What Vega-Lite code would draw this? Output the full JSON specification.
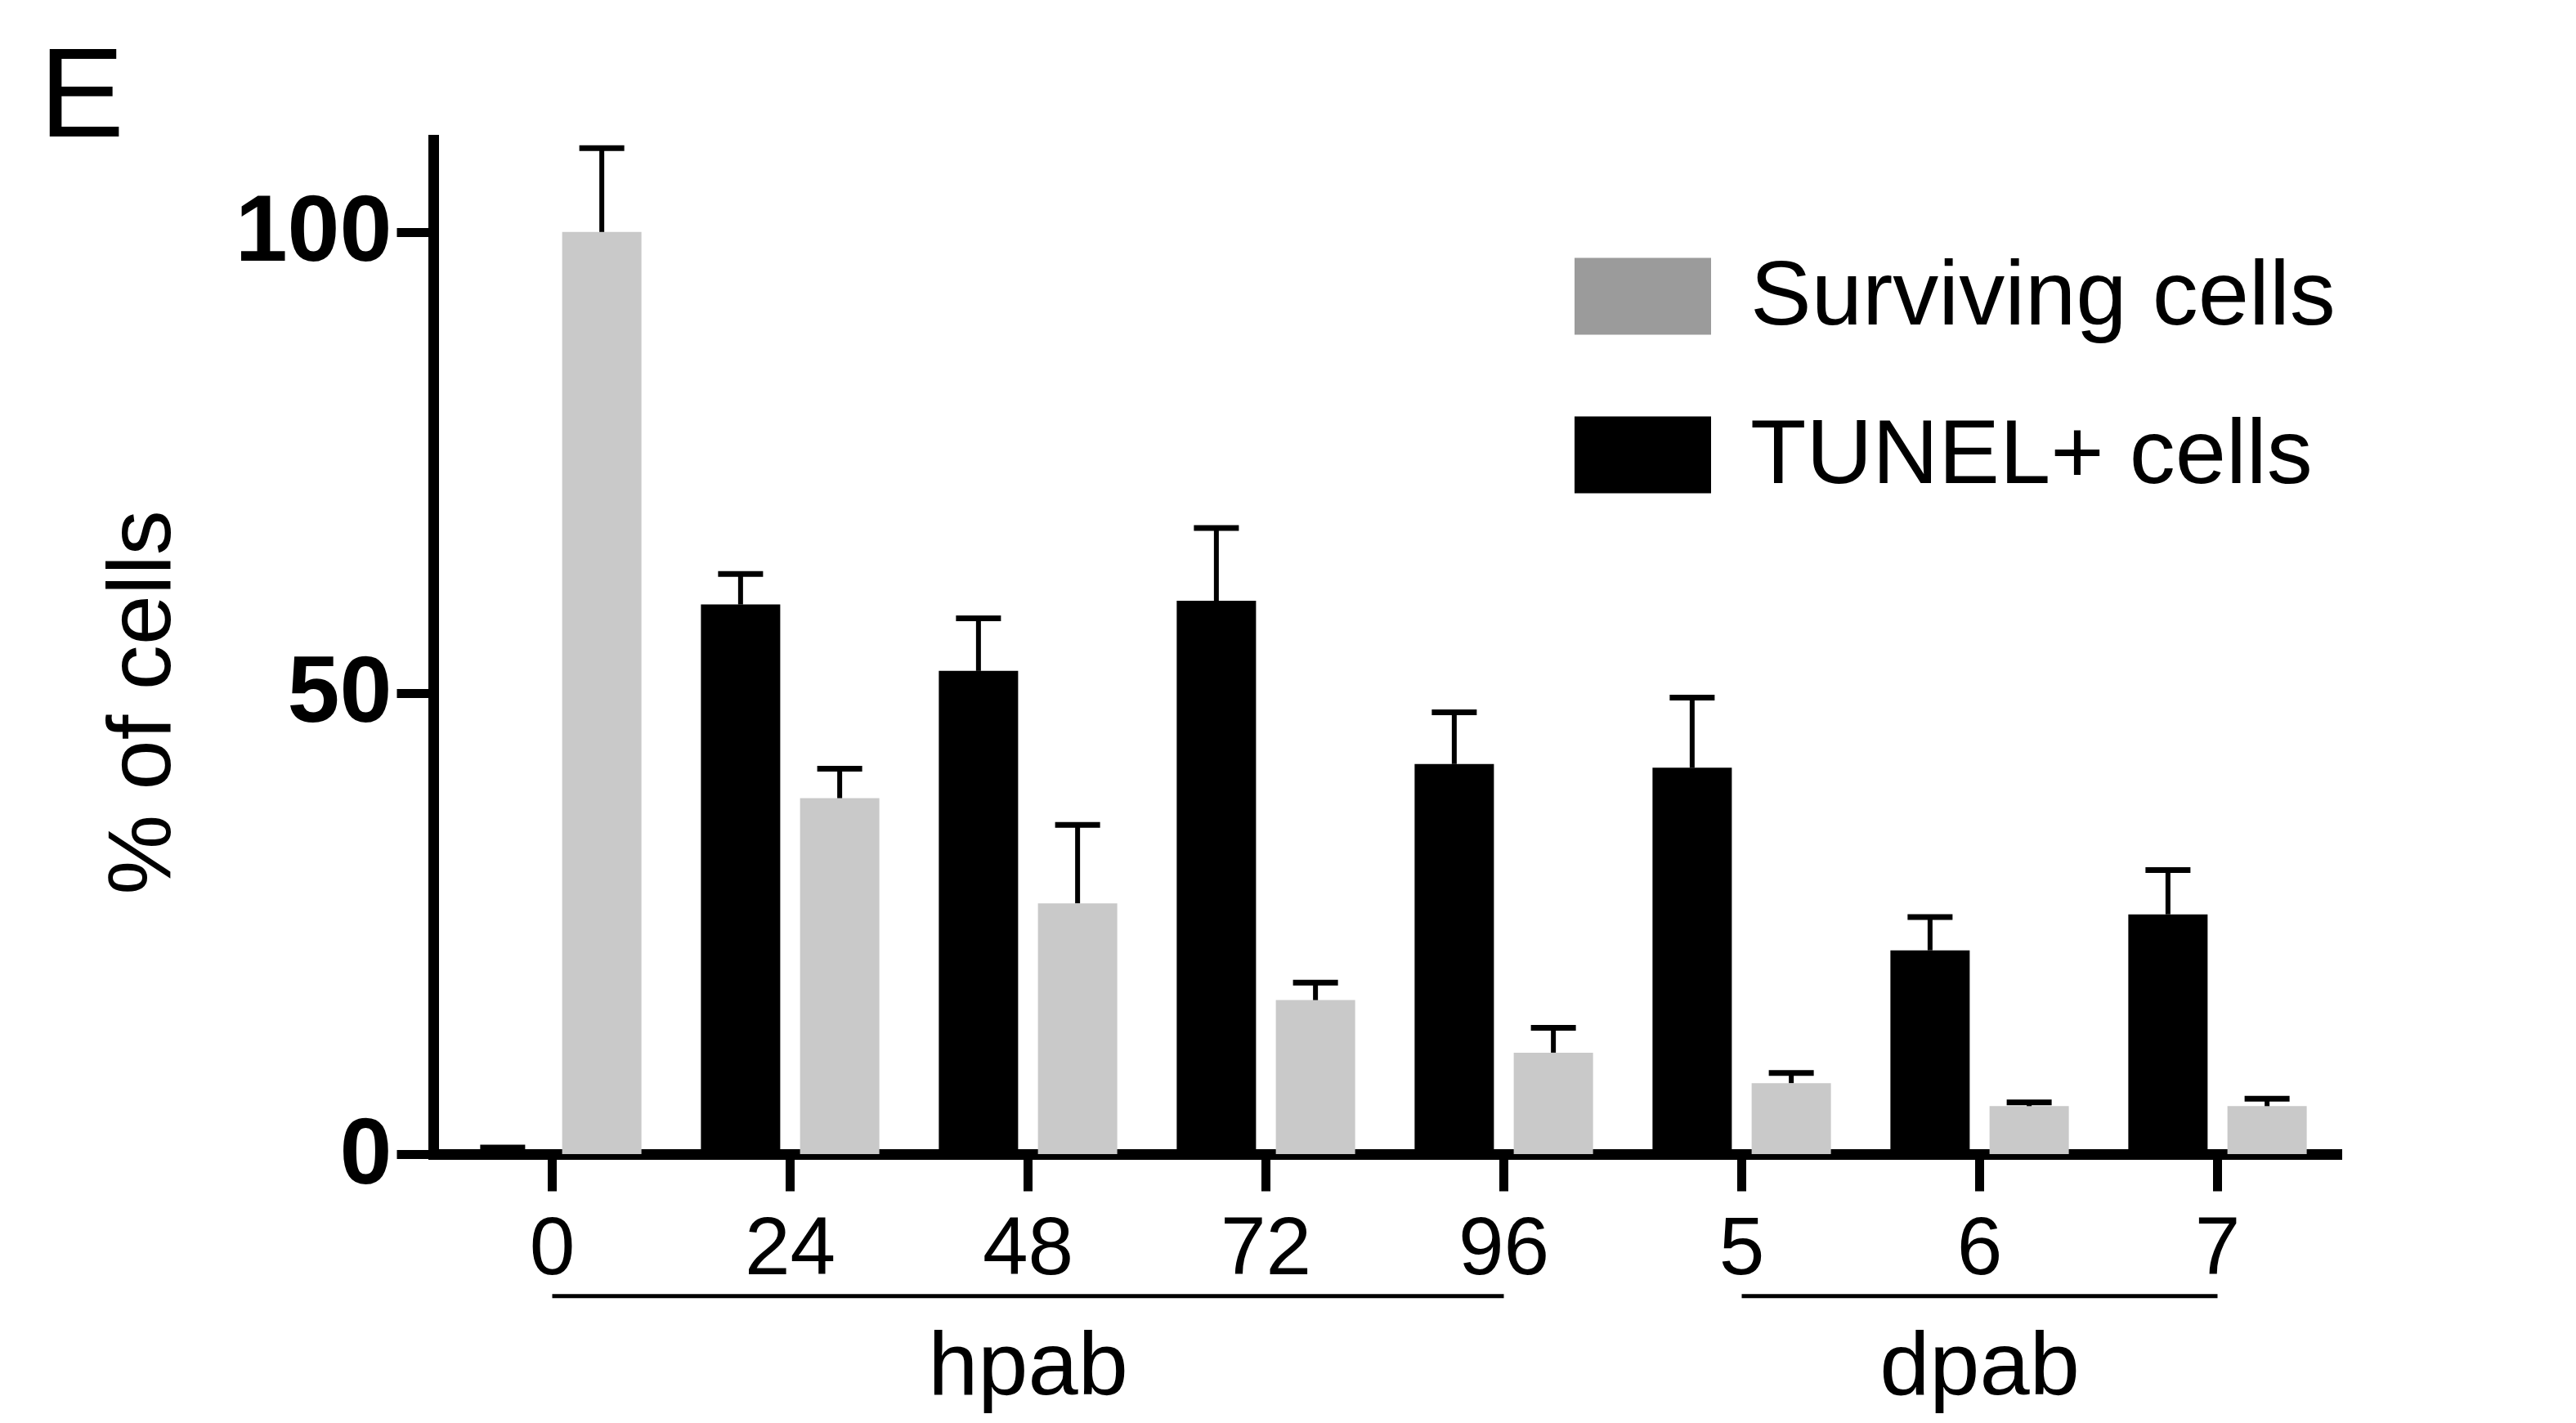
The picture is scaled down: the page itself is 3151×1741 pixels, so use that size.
{
  "$schema": "https://vega.github.io/schema/vega-lite/v6.json",
  "autosize": {"type": "none"},
  "padding": {"left": 530, "top": 171, "right": 293, "bottom": 329},
  "width": 2328,
  "height": 1241,
  "background": "white",
  "title": {"text": "E", "anchor": "start", "frame": "group", "dx": -482, "dy": 156, "offset": 4, "fontSize": 156, "fontWeight": "normal", "font": "Liberation Sans", "color": "black", "baseline": "alphabetic"},
  "config": {"view": {"stroke": null}, "font": "Liberation Sans"},
  "resolve": {"scale": {"color": "independent"}},
  "datasets": {
    "bars": [
      {"time": "0", "series": "TUNEL+ cells", "mean": 0, "upper": 0.7},
      {"time": "0", "series": "Surviving cells", "mean": 100, "upper": 109.1},
      {"time": "24", "series": "TUNEL+ cells", "mean": 59.6, "upper": 62.9},
      {"time": "24", "series": "Surviving cells", "mean": 38.6, "upper": 41.8},
      {"time": "48", "series": "TUNEL+ cells", "mean": 52.4, "upper": 58.1},
      {"time": "48", "series": "Surviving cells", "mean": 27.2, "upper": 35.7},
      {"time": "72", "series": "TUNEL+ cells", "mean": 60.0, "upper": 67.9},
      {"time": "72", "series": "Surviving cells", "mean": 16.7, "upper": 18.6},
      {"time": "96", "series": "TUNEL+ cells", "mean": 42.3, "upper": 47.9},
      {"time": "96", "series": "Surviving cells", "mean": 11.0, "upper": 13.7},
      {"time": "5", "series": "TUNEL+ cells", "mean": 41.9, "upper": 49.5},
      {"time": "5", "series": "Surviving cells", "mean": 7.7, "upper": 8.8},
      {"time": "6", "series": "TUNEL+ cells", "mean": 22.1, "upper": 25.7},
      {"time": "6", "series": "Surviving cells", "mean": 5.2, "upper": 5.6},
      {"time": "7", "series": "TUNEL+ cells", "mean": 26.0, "upper": 30.8},
      {"time": "7", "series": "Surviving cells", "mean": 5.2, "upper": 6.0}
    ],
    "groups": [
      {"label": "hpab", "start": "0", "end": "96", "mid": "48"},
      {"label": "dpab", "start": "5", "end": "7", "mid": "6"}
    ]
  },
  "layer": [
    {
      "data": {"name": "bars"},
      "mark": {"type": "bar"},
      "encoding": {
        "x": {
          "field": "time", "type": "nominal",
          "scale": {"domain": ["0", "24", "48", "72", "96", "5", "6", "7"], "paddingInner": 0, "paddingOuter": 0},
          "axis": {"title": null, "labelAngle": 0, "labelFontSize": 100, "labelFont": "Liberation Sans", "labelColor": "black", "labelPadding": 22, "tickSize": 45, "tickWidth": 11, "tickColor": "black", "domainWidth": 13, "domainColor": "black", "domainCap": "square", "grid": false}
        },
        "xOffset": {"field": "series", "type": "nominal", "scale": {"domain": ["TUNEL+ cells", "Surviving cells"], "paddingInner": 0.2, "paddingOuter": 0.3}},
        "y": {
          "field": "mean", "type": "quantitative",
          "scale": {"domain": [0, 110], "nice": false},
          "axis": {"title": "% of cells", "values": [0, 50, 100], "labelFontSize": 115, "labelFontWeight": "bold", "labelFont": "Liberation Sans", "labelColor": "black", "labelPadding": 6, "labelLimit": 1000, "tickSize": 45, "tickWidth": 11, "tickColor": "black", "domainWidth": 13, "domainColor": "black", "domainCap": "square", "grid": false, "titleFontSize": 110, "titleFontWeight": "normal", "titleFont": "Liberation Sans", "titleColor": "black", "titlePadding": 100, "titleY": 688}
        },
        "color": {
          "field": "series", "type": "nominal",
          "scale": {"domain": ["Surviving cells", "TUNEL+ cells"], "range": ["#c9c9c9", "#000000"]},
          "legend": null
        }
      }
    },
    {
      "data": {"name": "bars"},
      "mark": {"type": "bar", "strokeWidth": 0},
      "encoding": {
        "x": {"field": "time", "type": "nominal"},
        "xOffset": {"field": "series", "type": "nominal"},
        "y": {"field": "mean", "type": "quantitative"},
        "y2": {"field": "mean"},
        "color": {
          "field": "series", "type": "nominal",
          "scale": {"domain": ["Surviving cells", "TUNEL+ cells"], "range": ["#9b9b9b", "#000000"]},
          "legend": {
            "orient": "none", "legendX": 1396, "legendY": 108, "title": null,
            "symbolType": "M-1,-0.563H1V0.563H-1Z", "symbolSize": 27889, "symbolStrokeWidth": 0,
            "labelFontSize": 112, "labelFont": "Liberation Sans", "labelColor": "black", "labelOffset": 48, "labelLimit": 2000,
            "rowPadding": 54, "padding": 0
          }
        }
      }
    },
    {
      "data": {"name": "bars"},
      "mark": {"type": "rule", "color": "black", "strokeWidth": 6},
      "encoding": {
        "x": {"field": "time", "type": "nominal"},
        "xOffset": {"field": "series", "type": "nominal"},
        "y": {"field": "mean", "type": "quantitative"},
        "y2": {"field": "upper"}
      }
    },
    {
      "data": {"name": "bars"},
      "mark": {"type": "tick", "color": "black", "thickness": 7, "size": 55, "opacity": 1},
      "encoding": {
        "x": {"field": "time", "type": "nominal"},
        "xOffset": {"field": "series", "type": "nominal"},
        "y": {"field": "upper", "type": "quantitative"}
      }
    },
    {
      "data": {"name": "groups"},
      "mark": {"type": "rule", "color": "black", "strokeWidth": 5},
      "encoding": {
        "x": {"field": "start", "type": "nominal", "bandPosition": 0.5},
        "x2": {"field": "end", "bandPosition": 0.5},
        "y": {"datum": -15.4, "type": "quantitative"}
      }
    },
    {
      "data": {"name": "groups"},
      "mark": {"type": "text", "fontSize": 110, "font": "Liberation Sans", "align": "center", "baseline": "alphabetic", "color": "black"},
      "encoding": {
        "x": {"field": "mid", "type": "nominal"},
        "y": {"datum": -26.1, "type": "quantitative"},
        "text": {"field": "label"}
      }
    }
  ]
}
